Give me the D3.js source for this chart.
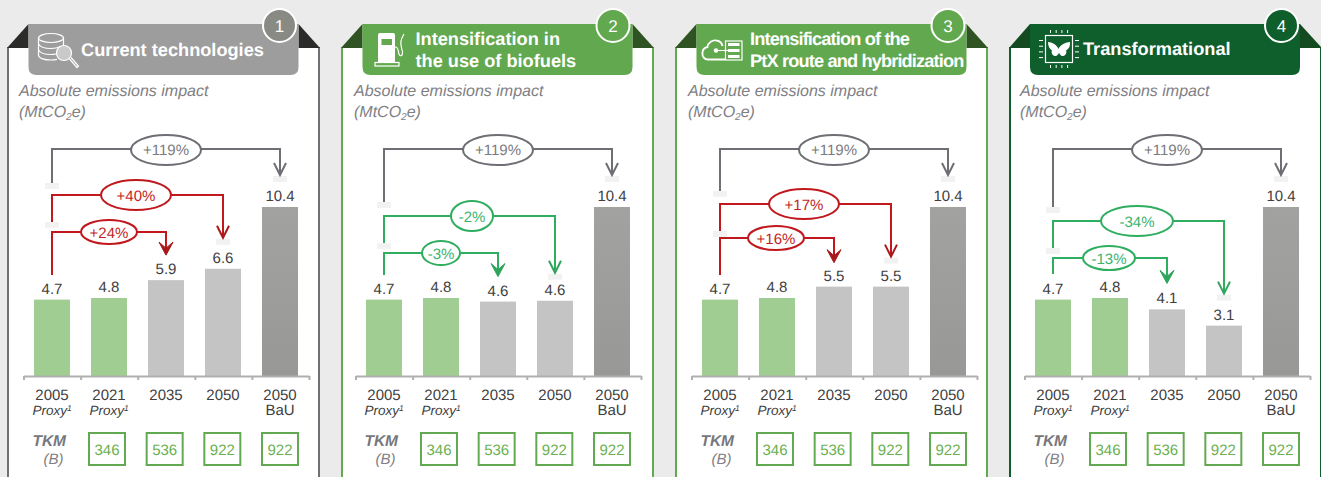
<!DOCTYPE html>
<html>
<head>
<meta charset="utf-8">
<style>
  html, body { margin: 0; padding: 0; background: #ebebeb; overflow: hidden; }
  svg { display: block; }
  text { font-family: "Liberation Sans", Arial, sans-serif; text-rendering: geometricPrecision; }
</style>
</head>
<body>
<svg id="chart" width="1321" height="477"></svg>
<script src="https://cdn.jsdelivr.net/npm/d3@7"></script>
<script>
'use strict';

// Values
const years = ['2005', '2021', '2035', '2050', '2050'];
const subLabels = ['Proxy', 'Proxy', '', '', 'BaU'];
const values1 = [4.7, 4.8, 5.9, 6.6, 10.4];
const values2 = [4.7, 4.8, 4.58, 4.63, 10.4];
const values3 = [4.7, 4.8, 5.5, 5.5, 10.4];
const values4 = [4.7, 4.8, 4.1, 3.1, 10.4];
const tkm = [346, 536, 922, 922];
const changes1 = ['+119%', '+40%', '+24%'];
const changes2 = ['+119%', '-2%', '-3%'];
const changes3 = ['+119%', '+17%', '+16%'];
const changes4 = ['+119%', '-34%', '-13%'];
const changeTargets = [4, 3, 2];
const titles1 = ['Current technologies'];
const titles2 = ['Intensification in', 'the use of biofuels'];
const titles3 = ['Intensification of the', 'PtX route and hybridization'];
const titles4 = ['Transformational'];

// Layout and styling, per panel
const panels = [
  {
    n: 1, values: values1, changes: changes1, titles: titles1, cardX: 8, off: 0, headX: 28.5, subX: 19,
    textX: 81, textY: [56], spacing: 0, circleX: 279.5,
    main: '#9d9d9d', dark: '#2b2b29', circle: '#8a8a85', border: '#6f6f75',
    links: [
      {level: 149, start: 183, labelX: 166, rx: 35, ry: 15, gap: 32},
      {level: 195, start: 222, labelX: 136, rx: 35, ry: 15, gap: 31},
      {level: 232, start: 275, labelX: 109, rx: 28, ry: 12, gap: 25}
    ]
  },
  {
    n: 2, values: values2, changes: changes2, titles: titles2, cardX: 342, off: 332, headX: 362.5, subX: 354,
    textX: 415.5, textY: [45, 67], spacing: 0, circleX: 613,
    main: '#62a84f', dark: '#2f5322', circle: '#62a84f', border: '#63a951',
    links: [
      {level: 149, start: 202, labelX: 498, rx: 35, ry: 15, gap: 32},
      {level: 216, start: 243, labelX: 472, rx: 21, ry: 15, gap: 28},
      {level: 253, start: 275, labelX: 441, rx: 19, ry: 12, gap: 25}
    ]
  },
  {
    n: 3, values: values3, changes: changes3, titles: titles3, cardX: 676, off: 668, headX: 696.5, subX: 688,
    textX: 750, textY: [45, 67], spacing: -0.85, circleX: 948,
    main: '#62a84f', dark: '#2f5322', circle: '#62a84f', border: '#63a951',
    links: [
      {level: 149, start: 191, labelX: 834, rx: 35, ry: 15, gap: 32},
      {level: 204, start: 231, labelX: 804, rx: 35, ry: 15, gap: 30},
      {level: 238, start: 275, labelX: 776, rx: 28, ry: 12, gap: 24}
    ]
  },
  {
    n: 4, values: values4, changes: changes4, titles: titles4, cardX: 1010, off: 1001, headX: 1030, subX: 1020,
    textX: 1083, textY: [55], spacing: 0, circleX: 1281.5,
    main: '#0f5f2d', dark: '#134a1f', circle: '#0f5f2d', border: '#0f5f2d',
    links: [
      {level: 149, start: 207, labelX: 1167, rx: 35, ry: 15, gap: 32},
      {level: 221, start: 248, labelX: 1137, rx: 36, ry: 15, gap: 32},
      {level: 258, start: 274, labelX: 1109, rx: 26, ry: 12, gap: 26}
    ]
  }
];

const barColors = ['#a0cd92', '#a0cd92', '#c4c4c4', '#c4c4c4', 'url(#bauFill)'];
const labelColor = '#404040';
const mutedColor = '#808084';
const tkmGreen = '#63a951';
const tones = {
  grey: {line: '#6e6e74', text: '#7b7b80', arrow: '#6e6e74'},
  red: {line: '#c0181d', text: '#c41e24', arrow: '#a8191c'},
  green: {line: '#2fae5f', text: '#3cb46e', arrow: '#2fa45c'}
};

const svg = d3.select('#chart');

const bau = svg.append('defs').append('linearGradient').attr('id', 'bauFill')
  .attr('x1', 0).attr('y1', 0).attr('x2', 0).attr('y2', 1);
bau.append('stop').attr('offset', 0).attr('stop-color', '#a2a2a0');
bau.append('stop').attr('offset', 1).attr('stop-color', '#989897');

const y = d3.scaleLinear().domain([0, 10.4]).range([376, 207]);

// Small line-art icons for the header pills
const icons = {
  1: function (g) {
    const line = g.append('g').attr('fill', 'none').attr('stroke', '#fff').attr('stroke-width', 1.2);
    line.append('ellipse').attr('cx', 51).attr('cy', 38).attr('rx', 12.5).attr('ry', 4.5);
    line.append('path').attr('d', 'M38.5 38V55C38.5 58.5 45 60 51 60C53 60 55 59.8 57 59.3');
    line.append('path').attr('d', 'M63.5 38V45');
    line.append('path').attr('d', 'M38.5 44C40 47 46 48.5 51 48.5C54.5 48.5 58 47.8 60.5 46.5');
    line.append('path').attr('d', 'M38.5 50C40 53 46 54.5 51 54.5C52.5 54.5 54.5 54.3 56 54');
    g.append('circle').attr('cx', 64).attr('cy', 53).attr('r', 7.5)
      .attr('fill', '#c9c9c9').attr('stroke', '#fff').attr('stroke-width', 1.2);
    line.append('path').attr('d', 'M60.5 53L63.2 56L68 50');
    line.append('path').attr('d', 'M69.5 59L77 67.5L78.5 66L71 57.5');
  },
  2: function (g) {
    const line = g.append('g').attr('fill', 'none').attr('stroke', '#fff').attr('stroke-width', 1.2);
    g.append('path').attr('fill', '#fff')
      .attr('d', 'M378 35Q378 33 380 33H393Q395 33 395 35V62H378Z');
    g.append('rect').attr('x', 381.5).attr('y', 39).attr('width', 10.5).attr('height', 6).attr('fill', '#62a84f');
    line.append('rect').attr('x', 375).attr('y', 62.5).attr('width', 24).attr('height', 3.5);
    line.append('path').attr('d', 'M395 47C399 47 398 52 399 54C400 57 403 56 402.5 52C402 48 400 45 401 41C401.5 38 403 36 404 34');
  },
  3: function (g) {
    const line = g.append('g').attr('fill', 'none').attr('stroke', '#fff').attr('stroke-width', 1.8);
    line.append('path').attr('d', 'M725 59.5H708C703.5 59.5 702 55.5 702.5 52C703 49 705 47.5 707.5 47C708 42.5 712.5 39.5 716.5 40.5C719.5 41 722 43.5 722.5 46');
    line.append('rect').attr('x', 725.5).attr('y', 41).attr('width', 16.5).attr('height', 19).attr('stroke-width', 1.2);
    g.append('path').attr('fill', '#fff').attr('d', 'M728 43h11.5v3h-11.5zM728 49h11.5v3h-11.5zM728 55h11.5v3h-11.5z');
    line.append('path').attr('d', 'M716 50.5H731').attr('stroke-width', 1.1);
    g.append('circle').attr('cx', 716).attr('cy', 50.5).attr('r', 2.2).attr('fill', '#fff');
  },
  4: function (g) {
    const line = g.append('g').attr('fill', 'none').attr('stroke', '#fff');
    line.append('rect').attr('x', 1045.5).attr('y', 35.5).attr('width', 27).attr('height', 27).attr('stroke-width', 1.2);
    const pins = d3.range(4);
    line.selectAll('path.t').data(pins).enter().append('path').attr('class', 't')
      .attr('d', function (d) { return 'M' + (1050.5 + d * 5.7) + ' 30V33'; });
    line.selectAll('path.b').data(pins).enter().append('path').attr('class', 'b')
      .attr('d', function (d) { return 'M' + (1050.5 + d * 5.7) + ' 65V68'; });
    line.selectAll('path.l').data(pins).enter().append('path').attr('class', 'l')
      .attr('d', function (d) { return 'M1039 ' + (40.5 + d * 5.7) + 'H1043'; });
    line.selectAll('path.r').data(pins).enter().append('path').attr('class', 'r')
      .attr('d', function (d) { return 'M1075 ' + (40.5 + d * 5.7) + 'H1079'; });
    g.append('path').attr('fill', '#fff')
      .attr('d', 'M1048 42C1052 42 1057 45 1058.5 49C1060 45 1066 42 1070 42C1070.5 46 1069 49 1066 50.5C1067 52 1066 55.5 1063 56C1061 56.5 1059.5 54 1059 52.5C1058.5 54 1057 56.5 1055 56C1052 55.5 1051 52 1052 50.5C1049.5 49 1048 46 1048 42Z');
  }
};

function drawPanel(p) {
  const g = svg.append('g').attr('class', 'panel');

  // Card with folded corners and title pill
  const cardR = p.cardX + 311;
  g.append('rect').attr('x', p.cardX).attr('y', 47).attr('width', 311).attr('height', 440).attr('fill', '#fff');
  g.append('path').attr('d', 'M' + p.cardX + ' 477V47M' + cardR + ' 47V477')
    .attr('stroke', p.border).attr('stroke-width', 2).attr('fill', 'none');
  g.append('path').attr('fill', p.dark)
    .attr('d', 'M' + (p.cardX - 1) + ' 48L' + p.headX + ' 24V48Z');
  g.append('path').attr('fill', p.dark)
    .attr('d', 'M' + (cardR + 1) + ' 48L' + (p.headX + 270) + ' 24V48Z');
  g.append('path').attr('fill', p.main)
    .attr('d', 'M' + p.headX + ' 24H' + (p.headX + 270) + 'V67Q' + (p.headX + 270) + ' 75 ' + (p.headX + 262) + ' 75H' + (p.headX + 8) + 'Q' + p.headX + ' 75 ' + p.headX + ' 67Z');
  g.append('circle').attr('cx', p.circleX).attr('cy', 25.5).attr('r', 16.5)
    .attr('fill', p.circle).attr('stroke', '#fff').attr('stroke-width', 2);
  g.append('text').attr('x', p.circleX).attr('y', 31.5).attr('text-anchor', 'middle')
    .attr('font-size', 17).attr('fill', '#fff').text(p.n);
  icons[p.n](g.append('g').attr('class', 'icon'));

  g.selectAll('.title').data(p.titles).enter().append('text')
    .attr('class', 'title')
    .attr('x', p.textX)
    .attr('y', function (d, i) { return p.textY[i]; })
    .attr('font-size', 18.2).attr('font-weight', 'bold').attr('fill', '#fff')
    .attr('letter-spacing', p.spacing)
    .text(String);

  // Subtitle
  const sub = g.append('g').attr('font-size', 16).attr('font-style', 'italic').attr('fill', mutedColor);
  sub.append('text').attr('x', p.subX).attr('y', 95.5).text('Absolute emissions impact');
  const unit = sub.append('text').attr('x', p.subX).attr('y', 116.5);
  unit.append('tspan').text('(MtCO');
  unit.append('tspan').attr('font-size', 10).attr('dy', 3).text('2');
  unit.append('tspan').attr('dy', -3).text('e)');

  // Scales for this panel
  const x = d3.scaleBand().domain(d3.range(p.values.length))
    .range([23.5 + p.off, 308.5 + p.off]).paddingInner(21 / 57).paddingOuter(21 / 114);
  const cx = function (i) { return x(i) + x.bandwidth() / 2; };
  const xEdges = d3.scaleLinear().domain([0, 5]).range([23.5 + p.off, 309 + p.off]);
  const xBoxes = d3.scalePoint().domain(d3.range(tkm.length)).range([107 + p.off, 280 + p.off]);

  // Bars
  g.selectAll('.bar').data(p.values).enter().append('rect')
    .attr('class', 'bar')
    .attr('x', function (d, i) { return x(i); })
    .attr('y', function (d) { return y(d); })
    .attr('width', x.bandwidth())
    .attr('height', function (d) { return y(0) - y(d); })
    .attr('fill', function (d, i) { return barColors[i]; });

  g.selectAll('.barLabel').data(p.values).enter().append('text')
    .attr('class', 'barLabel')
    .attr('x', function (d, i) { return cx(i); })
    .attr('y', function (d) { return y(d) - 6; })
    .attr('text-anchor', 'middle').attr('font-size', 15).attr('fill', labelColor)
    .text(function (d) { return d.toFixed(1); });

  // Axis with ticks on the band edges
  const axis = g.append('g').attr('transform', 'translate(0,' + y(0) + ')')
    .call(d3.axisBottom(xEdges).tickValues(d3.range(6)).tickSize(4).tickSizeOuter(0).tickFormat(''));
  axis.selectAll('line, path').attr('stroke', '#b0b0b0').attr('stroke-width', 2);

  g.selectAll('.year').data(years).enter().append('text')
    .attr('class', 'year')
    .attr('x', function (d, i) { return cx(i); })
    .attr('y', 400)
    .attr('text-anchor', 'middle').attr('font-size', 15).attr('fill', labelColor)
    .text(String);

  const subs = g.selectAll('.subLabel').data(subLabels).enter().append('text')
    .attr('class', 'subLabel')
    .attr('x', function (d, i) { return cx(i); })
    .attr('y', 415)
    .attr('text-anchor', 'middle')
    .attr('fill', labelColor);
  subs.filter(function (d) { return d === 'BaU'; }).attr('font-size', 15).text(String);
  const proxy = subs.filter(function (d) { return d === 'Proxy'; })
    .attr('font-size', 13.5).attr('font-style', 'italic');
  proxy.append('tspan').text(String);
  proxy.append('tspan').attr('font-size', 8.5).attr('dy', -4).text('1');

  // TKM row
  g.append('text').attr('x', 66 + p.off).attr('y', 446).attr('text-anchor', 'end')
    .attr('font-size', 15.5).attr('font-weight', 'bold').attr('font-style', 'italic').attr('fill', '#77777c')
    .text('TKM');
  g.append('text').attr('x', 63.5 + p.off).attr('y', 464).attr('text-anchor', 'end')
    .attr('font-size', 15).attr('font-style', 'italic').attr('fill', mutedColor)
    .text('(B)');

  g.selectAll('.tkmBox').data(tkm).enter().append('rect')
    .attr('class', 'tkmBox')
    .attr('x', function (d, i) { return xBoxes(i) - 18; })
    .attr('y', 433).attr('width', 36).attr('height', 32)
    .attr('fill', '#fff').attr('stroke', tkmGreen).attr('stroke-width', 2);

  g.selectAll('.tkmLabel').data(tkm).enter().append('text')
    .attr('class', 'tkmLabel')
    .attr('x', function (d, i) { return xBoxes(i); })
    .attr('y', 455)
    .attr('text-anchor', 'middle').attr('font-size', 15).attr('fill', '#6ab04f')
    .text(String);

  // Change connectors, outermost first
  p.links.forEach(function (link, i) {
    const label = p.changes[i];
    const tone = i === 0 ? tones.grey : (label[0] === '-' ? tones.green : tones.red);
    const target = changeTargets[i];
    const fromX = cx(0);
    const toX = cx(target);
    const endY = y(p.values[target]) - link.gap;
    const bold = i === 2;

    g.append('path')
      .attr('d', d3.line()([[fromX, link.start], [fromX, link.level], [toX, link.level], [toX, endY - (bold ? 6 : 1)]]))
      .attr('fill', 'none').attr('stroke', tone.line).attr('stroke-width', 2);

    if (!bold) {
      // pale tab left over below the line start and below the arrow
      g.append('rect').attr('x', fromX - 7).attr('y', link.start).attr('width', 14).attr('height', 6).attr('fill', '#f2f2f2');
      g.append('rect').attr('x', toX - 7).attr('y', endY + 1).attr('width', 14).attr('height', 6).attr('fill', '#f2f2f2');
      g.append('path')
        .attr('d', d3.line()([[toX - 6, endY - 12], [toX, endY], [toX + 6, endY - 12]]))
        .attr('fill', 'none').attr('stroke', tone.arrow).attr('stroke-width', 2);
    } else {
      g.append('path')
        .attr('d', 'M' + (toX - 7) + ' ' + (endY - 13) + 'L' + toX + ' ' + (endY - 7) + 'L' + (toX + 7) + ' ' + (endY - 13) + 'L' + toX + ' ' + endY + 'Z')
        .attr('fill', tone.arrow).attr('stroke', tone.arrow).attr('stroke-width', 1).attr('stroke-linejoin', 'round');
    }

    g.append('ellipse')
      .attr('cx', link.labelX).attr('cy', link.level + (i === 0 ? 1 : 0))
      .attr('rx', link.rx).attr('ry', link.ry)
      .attr('fill', '#fff').attr('stroke', tone.line).attr('stroke-width', 2);
    g.append('text')
      .attr('x', link.labelX).attr('y', link.level + (i === 0 ? 6 : 5.5))
      .attr('text-anchor', 'middle').attr('font-size', 15).attr('fill', tone.text)
      .text(label);
  });
}

panels.forEach(drawPanel);
</script>
</body>
</html>
